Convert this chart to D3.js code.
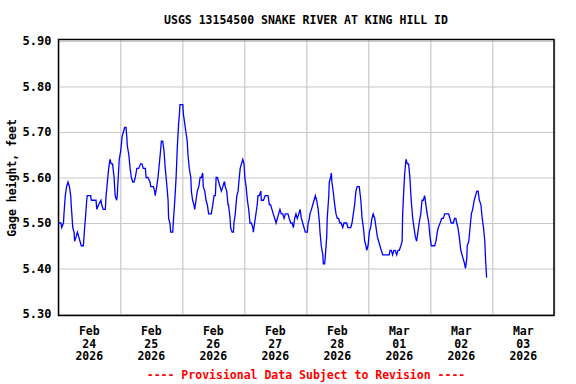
<!DOCTYPE html>
<html>
<head>
<meta charset="utf-8">
<script src="https://cdn.jsdelivr.net/npm/d3@7"></script>
<style>
  body { margin: 0; background: #fff; }
  text { font-family: "DejaVu Sans Mono", monospace; font-weight: bold; }
</style>
</head>
<body>
<svg id="chart" width="576" height="384"></svg>
<script>
// Data -------------------------------
const title = "USGS 13154500 SNAKE RIVER AT KING HILL ID";
const yLabel = "Gage height, feet";
const footer = "---- Provisional Data Subject to Revision ----";
const yTicks = [5.30, 5.40, 5.50, 5.60, 5.70, 5.80, 5.90];
const dayLabels = [["Feb", "24", "2026"], ["Feb", "25", "2026"], ["Feb", "26", "2026"], ["Feb", "27", "2026"],
                   ["Feb", "28", "2026"], ["Mar", "01", "2026"], ["Mar", "02", "2026"], ["Mar", "03", "2026"]];

// hours after Feb 24 2026 00:00
const hours = [
  0, 1, 1.3, 2, 2.2, 2.7, 3.2, 3.75, 4.3, 4.8, 5, 5.6, 6.1, 6.3, 6.9, 7.4, 7.9, 8.4, 8.9, 9.7,
  10.2, 10.5, 11, 11.2, 12.5, 12.8, 14.6, 14.9, 15.6, 16.5, 16.8, 17.4, 18.2, 18.5, 19, 19.5, 20, 20.5, 21, 21.6,
  22, 22.6, 22.8, 23.1, 23.6, 24.2, 24.7, 25.2, 25.7, 26.2, 26.5, 26.7, 27.3, 27.8, 28.3, 28.8, 29.3, 29.8, 30.4, 31.1,
  31.9, 32.4, 32.9, 33.7, 34, 34.7, 35.5, 35.8, 36.3, 36.8, 37.3, 37.5, 38.1, 38.6, 39.1, 39.6, 39.9, 40.4, 40.9, 41.4,
  41.9, 42.5, 42.7, 43.2, 43.5, 44.3, 44.5, 45.1, 45.6, 46.1, 46.6, 46.9, 47.1, 47.6, 48.2, 48.4, 48.9, 49.4, 49.9, 50.2,
  50.7, 51.3, 51.5, 52, 52.5, 52.8, 53.3, 53.8, 54.4, 54.9, 55.4, 55.9, 56.1, 56.7, 57.2, 57.7, 58.2, 59.2, 59.8, 60.3,
  60.8, 61.1, 61.6, 62.1, 62.6, 63.1, 63.7, 64.2, 64.4, 64.6, 65.2, 65.7, 65.9, 66.5, 66.7, 67.3, 67.8, 68, 68.5, 69.1,
  69.6, 69.9, 70.4, 70.9, 71.4, 71.9, 72.2, 72.7, 73.2, 73.7, 74.2, 74.7, 75.3, 75.5, 76, 76.5, 77, 77.3, 77.8, 78.4,
  78.6, 79.4, 80.1, 81.2, 81.7, 82.2, 82.7, 83.2, 83.8, 84.3, 84.8, 85.3, 85.8, 86.3, 86.9, 87.4, 87.9, 88.4, 88.9, 89.4,
  90, 90.5, 91, 91.5, 92, 92.5, 93.1, 93.6, 94.1, 94.6, 95.1, 95.6, 96.4, 96.7, 97.2, 97.4, 98, 98.5, 99, 99.5,
  100, 100.6, 101.1, 101.3, 101.8, 102.4, 102.6, 103.1, 103.4, 103.9, 104.1, 104.7, 104.9, 105.4, 105.7, 105.9, 106.4, 107, 107.5, 108,
  108.5, 109, 109.5, 110.1, 110.6, 111.1, 111.6, 112.1, 113.2, 113.7, 114.2, 114.7, 115.2, 115.7, 116.5, 117.1, 117.6, 118.1, 118.6, 119.1,
  119.4, 119.9, 120.4, 120.9, 121.4, 121.9, 122.5, 123, 123.5, 124, 124.5, 125, 125.6, 126.1, 128.1, 128.4, 128.9, 129.4, 129.9, 130.4,
  131, 131.5, 132, 132.6, 133.1, 133.3, 133.8, 134.1, 134.6, 135.1, 135.6, 136.1, 136.6, 137.2, 137.7, 138.2, 138.7, 139.2, 139.7, 140.3,
  140.8, 141.3, 141.8, 142.3, 142.8, 143.4, 143.9, 144.4, 145.7, 146.2, 146.7, 147.1, 147.8, 148.4, 149, 149.6, 151.1, 151.6, 152.1, 152.9,
  153.4, 153.9, 154.2, 154.7, 155.2, 155.8, 156.3, 156.8, 157.3, 157.6, 158.1, 158.3, 158.9, 159.4, 159.9, 160.4, 161, 161.5, 162, 162.5,
  163, 163.6, 164.1, 164.6, 165.1, 165.4, 165.8
];
const gage = [
  5.50, 5.50, 5.49, 5.50, 5.52, 5.56, 5.58, 5.59, 5.58, 5.56, 5.54, 5.49, 5.48, 5.46, 5.47, 5.48, 5.47, 5.46, 5.45, 5.45,
  5.49, 5.51, 5.55, 5.56, 5.56, 5.55, 5.55, 5.53, 5.54, 5.55, 5.54, 5.53, 5.53, 5.56, 5.59, 5.62, 5.64, 5.63, 5.63, 5.60,
  5.56, 5.55, 5.56, 5.59, 5.64, 5.66, 5.69, 5.70, 5.71, 5.71, 5.69, 5.67, 5.65, 5.62, 5.60, 5.59, 5.59, 5.60, 5.62, 5.62,
  5.63, 5.63, 5.62, 5.62, 5.60, 5.60, 5.59, 5.58, 5.58, 5.58, 5.57, 5.56, 5.58, 5.60, 5.63, 5.66, 5.68, 5.68, 5.66, 5.62,
  5.59, 5.55, 5.51, 5.50, 5.48, 5.48, 5.50, 5.55, 5.60, 5.67, 5.72, 5.74, 5.76, 5.76, 5.76, 5.74, 5.72, 5.70, 5.68, 5.65,
  5.62, 5.60, 5.57, 5.55, 5.54, 5.53, 5.55, 5.57, 5.58, 5.60, 5.60, 5.61, 5.58, 5.57, 5.55, 5.54, 5.52, 5.52, 5.54, 5.56,
  5.56, 5.60, 5.60, 5.59, 5.58, 5.57, 5.58, 5.59, 5.59, 5.58, 5.57, 5.54, 5.54, 5.51, 5.49, 5.48, 5.48, 5.50, 5.52, 5.56,
  5.57, 5.59, 5.62, 5.63, 5.64, 5.63, 5.60, 5.58, 5.55, 5.53, 5.50, 5.50, 5.49, 5.48, 5.50, 5.52, 5.54, 5.56, 5.56, 5.57,
  5.55, 5.55, 5.56, 5.56, 5.54, 5.54, 5.53, 5.52, 5.51, 5.50, 5.51, 5.52, 5.53, 5.52, 5.52, 5.51, 5.52, 5.52, 5.52, 5.51,
  5.50, 5.50, 5.49, 5.51, 5.52, 5.51, 5.52, 5.53, 5.51, 5.50, 5.49, 5.48, 5.48, 5.50, 5.51, 5.52, 5.53, 5.54, 5.55, 5.56,
  5.55, 5.53, 5.50, 5.48, 5.45, 5.43, 5.41, 5.41, 5.43, 5.47, 5.51, 5.56, 5.59, 5.60, 5.61, 5.59, 5.57, 5.54, 5.52, 5.51,
  5.51, 5.50, 5.50, 5.49, 5.50, 5.50, 5.50, 5.49, 5.49, 5.50, 5.52, 5.54, 5.57, 5.58, 5.58, 5.55, 5.51, 5.49, 5.46, 5.45,
  5.44, 5.45, 5.48, 5.49, 5.51, 5.52, 5.51, 5.49, 5.47, 5.46, 5.45, 5.44, 5.43, 5.43, 5.43, 5.44, 5.44, 5.43, 5.44, 5.44,
  5.43, 5.44, 5.44, 5.45, 5.46, 5.52, 5.58, 5.61, 5.64, 5.63, 5.63, 5.60, 5.55, 5.51, 5.49, 5.47, 5.46, 5.48, 5.50, 5.52,
  5.55, 5.55, 5.56, 5.54, 5.52, 5.50, 5.47, 5.45, 5.45, 5.46, 5.48, 5.49, 5.50, 5.51, 5.51, 5.52, 5.52, 5.51, 5.50, 5.50,
  5.51, 5.51, 5.50, 5.49, 5.47, 5.44, 5.43, 5.42, 5.41, 5.40, 5.42, 5.45, 5.46, 5.49, 5.52, 5.53, 5.55, 5.56, 5.57, 5.57,
  5.55, 5.54, 5.51, 5.49, 5.46, 5.42, 5.38
];

document.addEventListener("DOMContentLoaded", function () {
    const start = Date.UTC(2026, 1, 24);
    const end = Date.UTC(2026, 2, 4);
    const hour = 3600 * 1000;
    const series = hours.map((h, i) => ({ t: new Date(start + h * hour), v: gage[i] }));

    const box = { left: 58.5, right: 554, top: 39.5, bottom: 315.5 };

    const x = d3.scaleUtc()
        .domain([new Date(start), new Date(end)])
        .range([58.3, 554.3]);

    const y = d3.scaleLinear()
        .domain([5.30, 5.90])
        .range([314, 41]);

    const svg = d3.select("#chart");

    // Grid ----------
    svg.append("g")
        .attr("transform", `translate(0,${box.bottom})`)
        .call(d3.axisBottom(x)
            .ticks(d3.utcDay.every(1))
            .tickSize(-(box.bottom - box.top))
            .tickFormat(""))
        .call(g => g.select(".domain").remove())
        .call(g => g.selectAll("line").attr("stroke", "#c8c8c8").attr("stroke-width", 1.2));

    svg.append("g")
        .attr("transform", `translate(${box.left},0)`)
        .call(d3.axisLeft(y)
            .tickValues(yTicks)
            .tickSize(-(box.right - box.left))
            .tickPadding(7)
            .tickFormat(d3.format(".2f")))
        .call(g => g.select(".domain").remove())
        .call(g => g.selectAll("line").attr("stroke", "#c8c8c8").attr("stroke-width", 1.2))
        .call(g => g.selectAll("text")
            .attr("font-family", "DejaVu Sans Mono")
            .attr("font-weight", "bold")
            .attr("font-size", 12)
            .attr("fill", "#000"));

    // Data line ----------
    svg.append("path")
        .datum(series)
        .attr("fill", "none")
        .attr("stroke", "#0000ff")
        .attr("stroke-width", 1.3)
        .attr("d", d3.line().x(d => x(d.t)).y(d => y(d.v)));

    // Frame ----------
    svg.append("rect")
        .attr("x", box.left)
        .attr("y", box.top)
        .attr("width", box.right - box.left)
        .attr("height", box.bottom - box.top)
        .attr("fill", "none")
        .attr("stroke", "#000")
        .attr("stroke-width", 1.5);

    // Day labels at noon ----------
    const noons = dayLabels.map((d, i) => new Date(start + (i * 24 + 12) * hour));
    const labels = svg.append("g")
        .selectAll("text")
        .data(dayLabels)
        .enter()
        .append("text")
        .attr("text-anchor", "middle")
        .attr("font-size", 11.5)
        .attr("fill", "#000");
    labels.each(function (d, i) {
        d3.select(this).selectAll("tspan")
            .data(d)
            .enter()
            .append("tspan")
            .attr("x", x(noons[i]))
            .attr("y", (s, j) => 335 + j * 12.7)
            .text(s => s);
    });

    // Texts ----------
    svg.append("text")
        .attr("x", 306)
        .attr("y", 24)
        .attr("text-anchor", "middle")
        .attr("font-size", 11.5)
        .text(title);

    svg.append("text")
        .attr("transform", "translate(16,178) rotate(-90)")
        .attr("text-anchor", "middle")
        .attr("font-size", 11.5)
        .text(yLabel);

    svg.append("text")
        .attr("x", 306)
        .attr("y", 379)
        .attr("text-anchor", "middle")
        .attr("font-size", 11.5)
        .attr("fill", "#ff0000")
        .text(footer);
});
</script>
</body>
</html>
